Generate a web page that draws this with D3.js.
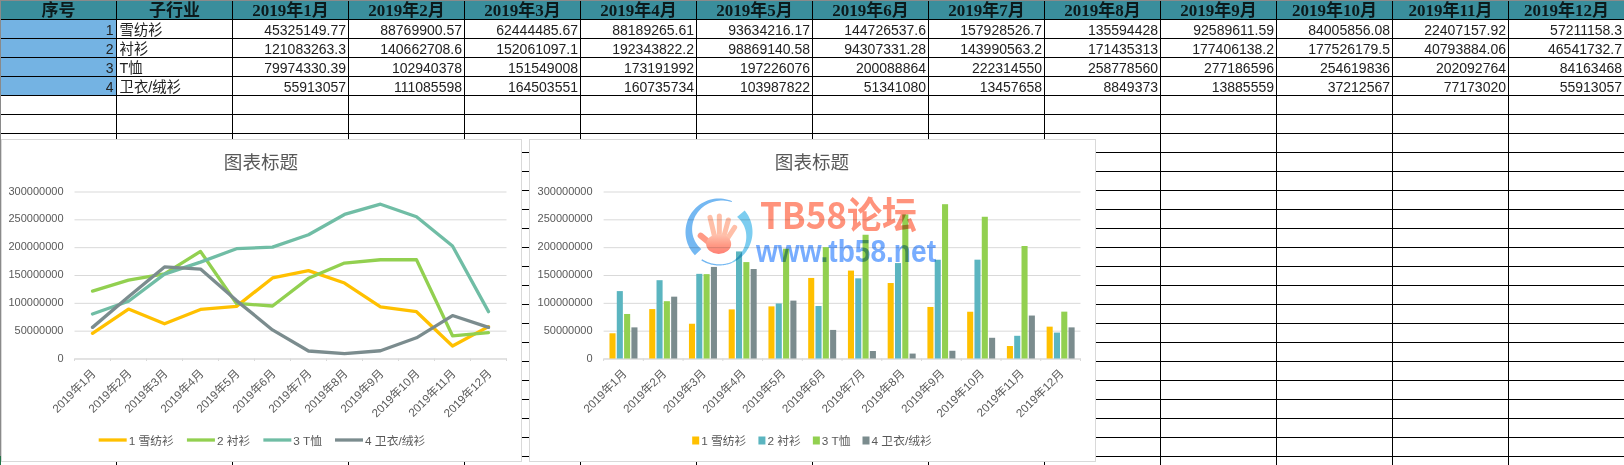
<!DOCTYPE html>
<html><head><meta charset="utf-8">
<script src="https://cdn.jsdelivr.net/npm/d3@7/dist/d3.min.js"></script>
<style>html,body{margin:0;padding:0;background:#fff;overflow:hidden}svg{display:block}</style>
</head><body><svg id="c" width="1624" height="465"></svg>
<script>
const headers = ["序号","子行业"];
const months = ["2019年1月","2019年2月","2019年3月","2019年4月","2019年5月","2019年6月","2019年7月","2019年8月","2019年9月","2019年10月","2019年11月","2019年12月"];
const ids = [1,2,3,4];
const names = ["雪纺衫","衬衫","T恤","卫衣/绒衫"];
const s1Text = ["45325149.77","88769900.57","62444485.67","88189265.61","93634216.17","144726537.6","157928526.7","135594428","92589611.59","84005856.08","22407157.92","57211158.3"];
const s2Text = ["121083263.3","140662708.6","152061097.1","192343822.2","98869140.58","94307331.28","143990563.2","171435313","177406138.2","177526179.5","40793884.06","46541732.7"];
const s3Text = ["79974330.39","102940378","151549008","173191992","197226076","200088864","222314550","258778560","277186596","254619836","202092764","84163468"];
const s4Text = ["55913057","111085598","164503551","160735734","103987822","51341080","13457658","8849373","13885559","37212567","77173020","55913057"];
const yTicks = [0,50000000,100000000,150000000,200000000,250000000,300000000];
const chartTitle = "图表标题";
const lineColors = ["#FFC000","#92D050","#70BDA5","#7B8C8E"];
const barColors = ["#FFC000","#5BB5C0","#92D050","#7B8C8E"];
const rowsText = [s1Text,s2Text,s3Text,s4Text];
const seriesLabels = ids.map((d,i)=>d+" "+names[i]);

const svg = d3.select("#c");
const SANS = "'Liberation Sans','Noto Sans CJK SC',sans-serif";
const CJK = "'Noto Sans CJK SC','Liberation Sans',sans-serif";
const SERIF = "'Liberation Serif','Noto Sans CJK SC',serif";

/* ---------- sheet ---------- */
const colW=116, colX0=0.5, rowH=19, rowY0=0.5;
const colX=i=>colX0+colW*i;
const rowY=i=>rowY0+rowH*i;
const sheet=svg.append("g");
sheet.append("rect").attr("x",0).attr("y",0).attr("width",1624).attr("height",rowY(1)).attr("fill","#3A8E9C");
sheet.append("rect").attr("x",0).attr("y",rowY(1)).attr("width",colX(1)).attr("height",rowH*4).attr("fill","#74B3E3");
sheet.selectAll("line.h").data(d3.range(1,25)).join("line").attr("x1",0).attr("x2",1624)
  .attr("y1",d=>rowY(d)).attr("y2",d=>rowY(d)).attr("stroke","#000");
sheet.selectAll("line.v").data(d3.range(1,14)).join("line").attr("y1",0).attr("y2",465)
  .attr("x1",d=>colX(d)).attr("x2",d=>colX(d)).attr("stroke","#000");
sheet.append("rect").attr("x",0).attr("y",0).attr("width",1624).attr("height",1).attr("fill","#8a8a8a");
sheet.selectAll("text.hd").data(headers.concat(months)).join("text")
  .attr("x",(d,i)=>colX(i)+colW/2).attr("y",rowY(1)-4).attr("text-anchor","middle")
  .attr("font-family",SERIF).attr("font-weight","bold").attr("font-size",17).attr("fill","#0c1a1c").text(d=>d);
ids.forEach((id,r)=>{
  const y=rowY(r+2)-4;
  sheet.append("text").attr("x",colX(1)-3).attr("y",y).attr("text-anchor","end").attr("font-family",SANS).attr("font-size",14).attr("fill","#222").text(id);
  sheet.append("text").attr("x",colX(1)+3).attr("y",y).attr("font-family",SANS).attr("font-size",14.4).attr("fill","#222").text(names[r]);
  sheet.selectAll(null).data(rowsText[r]).join("text")
    .attr("x",(d,i)=>colX(i+3)-2.5).attr("y",y).attr("text-anchor","end")
    .attr("font-family",SANS).attr("font-size",14).attr("fill","#222").text(d=>d);
});
sheet.append("rect").attr("x",0).attr("y",0).attr("width",1).attr("height",465).attr("fill","#8a8a8a");
sheet.append("rect").attr("x",0).attr("y",456).attr("width",1).attr("height",9).attr("fill","#217346");

/* ---------- charts ---------- */
const series=rowsText.map(r=>r.map(Number));
function frame(x0,y0,x1,y1,px0,px1){
  const g=svg.append("g");
  g.append("rect").attr("x",x0+.5).attr("y",y0+.5).attr("width",x1-x0).attr("height",y1-y0).attr("fill","#fff").attr("stroke","#D9D9D9");
  g.append("text").attr("x",(x0+x1)/2).attr("y",169).attr("text-anchor","middle").attr("font-family",CJK).attr("font-size",18.6).attr("fill","#595959").text(chartTitle);
  const y=d3.scaleLinear().domain([0,300000000]).range([358.5,191.5]);
  const x=d3.scaleBand().domain(months).range([px0,px1]);
  const ya=d3.axisLeft(y).tickValues(yTicks).tickFormat(d3.format("d")).tickSize(-(px1-px0)).tickPadding(11);
  const yg=g.append("g").attr("transform",`translate(${px0},0)`).call(ya);
  yg.select(".domain").remove();
  yg.selectAll("line").attr("stroke","#D9D9D9");
  yg.selectAll("text").attr("font-family",SANS).attr("font-size",11).attr("fill","#595959").attr("transform","translate(0,-1)");
  const xa=d3.axisBottom(x).tickSize(0).tickPadding(0);
  const xg=g.append("g").attr("transform","translate(0,358.5)").call(xa);
  xg.select(".domain").attr("stroke","#D9D9D9");
  xg.selectAll("text").attr("font-family",SANS).attr("font-size",11.6).attr("fill","#595959")
    .attr("text-anchor","end").attr("transform","translate(1,13) rotate(-45)").attr("dy","0.35em");
  g.selectAll("line.bt").data(d3.range(13)).join("line").attr("x1",d=>px0+x.step()*d).attr("x2",d=>px0+x.step()*d)
    .attr("y1",358.5).attr("y2",361).attr("stroke","#D9D9D9");
  return {g,x,y};
}
function legend(g,cx,keyW,keyGap,gap,colors,draw){
  const items=g.append("g").selectAll("g").data(seriesLabels).join("g");
  items.append("text").attr("y",444.5).attr("font-family",SANS).attr("font-size",11.8).attr("fill","#595959").text(d=>d);
  const widths=[];items.select("text").each(function(){widths.push(this.getComputedTextLength())});
  const total=d3.sum(widths)+seriesLabels.length*(keyW+keyGap)+gap*(seriesLabels.length-1);
  let cur=cx-total/2;
  items.each(function(d,i){
    const it=d3.select(this);
    draw(it,cur,colors[i]);
    it.select("text").attr("x",cur+keyW+keyGap);
    cur+=keyW+keyGap+widths[i]+gap;
  });
}
/* line chart */
const L=frame(1,139,521,461,74.5,506.5);
const lineGen=d3.line().x((d,i)=>L.x(months[i])+L.x.bandwidth()/2).y(d=>L.y(d));
L.g.selectAll("path.s").data(series).join("path").attr("class","s").attr("fill","none")
  .attr("stroke",(d,i)=>lineColors[i]).attr("stroke-width",3.3).attr("stroke-linejoin","round").attr("stroke-linecap","round").attr("d",lineGen);
legend(L.g,262,28,2,13,lineColors,(it,x,c)=>it.append("line").attr("x1",x).attr("x2",x+28).attr("y1",440).attr("y2",440).attr("stroke",c).attr("stroke-width",3.3));
/* bar chart */
const B=frame(529,139,1095,461,603.6,1080.5);
const sub=d3.scaleBand().domain(d3.range(4)).range([0,28]).paddingInner(0.17);
B.g.selectAll("g.sr").data(series).join("g").attr("class","sr").attr("fill",(d,i)=>barColors[i])
  .each(function(vals,si){
    d3.select(this).selectAll("rect").data(vals).join("rect")
      .attr("x",(d,i)=>B.x(months[i])+(B.x.step()-28)/2+sub(si))
      .attr("width",sub.bandwidth()).attr("y",d=>B.y(d)).attr("height",d=>B.y(0)-B.y(d));
  });
legend(B.g,812,7,2,12,barColors,(it,x,c)=>it.append("rect").attr("x",x).attr("y",436.5).attr("width",7).attr("height",8).attr("fill",c));

/* ---------- watermark ---------- */
const wm=svg.append("g").style("mix-blend-mode","multiply");
const defs=svg.append("defs");
const grad=defs.append("linearGradient").attr("id","hand").attr("x1",0).attr("x2",0).attr("y1",0).attr("y2",1);
grad.append("stop").attr("offset",0).attr("stop-color","#ffc4b0");
grad.append("stop").attr("offset",.55).attr("stop-color","#ff9a85");
grad.append("stop").attr("offset",1).attr("stop-color","#ff8075");
const ringC=[719,232];
const deg=Math.PI/180;
function crescent(a0,a1,thickAt0,thickAt1,color){
  const t=d3.range(0,1.0001,1/40);
  const gen=d3.areaRadial().angle(d=>(a0+(a1-a0)*d)*deg)
    .outerRadius(33.5).innerRadius(d=>33.5-(thickAt0+(thickAt1-thickAt0)*d));
  wm.append("path").attr("transform",`translate(${ringC})`).attr("d",gen(t)).attr("fill",color);
}
crescent(23,-134,1,9,"#74b8f2");
crescent(50,157,10,1,"#7ccdf0");
crescent(157,212,1,1.5,"#74b8f2");
const hx=z=>660+z/3, hy=z=>170+z/3;
const fingers=[[[150,142],[165,205]],[[178,138],[178,205]],[[205,150],[190,205]],[[224,172],[198,212]],[[122,197],[165,232]]];
fingers.forEach((f,i)=>wm.append("line").attr("x1",hx(f[0][0])).attr("y1",hy(f[0][1])).attr("x2",hx(f[1][0])).attr("y2",hy(f[1][1]))
  .attr("stroke",i==4?"#ff9a85":"#ffbfa8").attr("stroke-width",i==4?6:5).attr("stroke-linecap","round"));
wm.append("ellipse").attr("cx",hx(176)).attr("cy",hy(222)).attr("rx",12.5).attr("ry",10).attr("fill","url(#hand)");
wm.append("text").attr("x",760).attr("y",229).attr("font-family","'Noto Sans CJK SC',sans-serif").attr("font-weight","bold")
  .attr("font-size",37).attr("fill","#ff937c").attr("textLength",157).attr("lengthAdjust","spacingAndGlyphs").text("TB58论坛");
wm.append("text").attr("x",756).attr("y",262).attr("font-family","'Liberation Sans',sans-serif").attr("font-weight","bold")
  .attr("font-size",31).attr("fill","#78adff").attr("textLength",180).attr("lengthAdjust","spacingAndGlyphs").text("www.tb58.net");
</script></body></html>
